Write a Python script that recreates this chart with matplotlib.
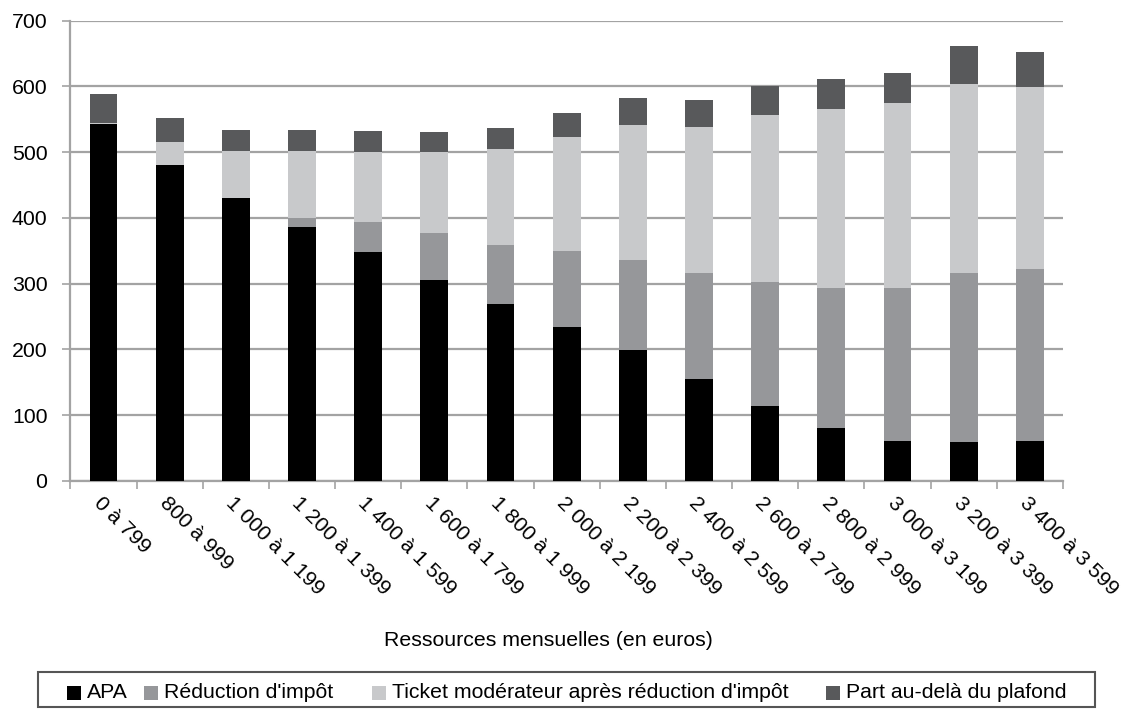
import matplotlib
matplotlib.use("Agg")
import matplotlib.pyplot as plt
from matplotlib.patches import Rectangle
from matplotlib.ticker import FixedLocator, NullFormatter
import matplotlib.transforms as mtransforms
import numpy as np

plt.rcParams['font.family'] = ['Liberation Sans', 'DejaVu Sans']

categories = [
    "0 à 799", "800 à 999", "1 000 à 1 199", "1 200 à 1 399", "1 400 à 1 599",
    "1 600 à 1 799", "1 800 à 1 999", "2 000 à 2 199", "2 200 à 2 399",
    "2 400 à 2 599", "2 600 à 2 799", "2 800 à 2 999", "3 000 à 3 199",
    "3 200 à 3 399", "3 400 à 3 599",
]

apa = [543, 480, 430, 386, 348, 306, 269, 234, 199, 155, 114, 81, 61, 59, 61]
reduction_impot = [0, 0, 0, 14, 46, 71, 90, 116, 137, 161, 189, 213, 233, 257, 261]
ticket_moderateur = [2, 35, 72, 102, 106, 123, 146, 173, 205, 222, 254, 272, 281, 288, 277]
part_plafond = [44, 37, 32, 32, 32, 30, 32, 37, 41, 41, 44, 45, 45, 58, 53]

series_names = [
    "APA",
    "Réduction d'impôt",
    "Ticket modérateur après réduction d'impôt",
    "Part au-delà du plafond",
]
series_colors = ["#000000", "#96979a", "#c8c9cb", "#58595b"]

FS = 15.3
W, H = 1132, 709
fig = plt.figure(figsize=(W / 100, H / 100), dpi=100)
ax = fig.add_axes([70.4 / W, 1 - 481 / H, (1063 - 70.4) / W, (481 - 20.7) / H])

x = np.arange(len(categories))
bottom = np.zeros(len(categories))
for vals, name, col in zip([apa, reduction_impot, ticket_moderateur, part_plafond],
                           series_names, series_colors):
    vals = np.asarray(vals, dtype=float)
    ax.bar(x, vals, width=0.42, bottom=bottom, color=col, edgecolor='none',
           zorder=3, label=name)
    bottom += vals

grid_col = "#a3a3a3"
ax.set_xlim(-0.5, len(categories) - 0.5)
ax.set_ylim(0, 700)
ax.set_yticks(np.arange(0, 701, 100))
ax.yaxis.grid(True, color=grid_col, linewidth=1.6, zorder=0)
ax.set_axisbelow(True)

for side in ("top", "right"):
    ax.spines[side].set_visible(False)
for side in ("left", "bottom"):
    ax.spines[side].set_color(grid_col)
    ax.spines[side].set_linewidth(1.6)

ax.tick_params(axis='y', direction='out', length=5.5, width=1.2, color=grid_col,
               pad=11, labelsize=FS, labelcolor='#000000')

# category boundaries carry the tick marks, centres carry the labels
ax.xaxis.set_minor_locator(FixedLocator(np.arange(-0.5, len(categories), 1.0)))
ax.xaxis.set_minor_formatter(NullFormatter())
ax.tick_params(axis='x', which='minor', direction='out', length=5.5, width=1.2,
               color=grid_col)
ax.set_xticks(x)
ax.set_xticklabels(categories)
ax.tick_params(axis='x', which='major', length=0, pad=0, labelsize=FS)
offset = mtransforms.ScaledTranslation(-5 / 72, -13.5 / 72, fig.dpi_scale_trans)
for lab in ax.get_xticklabels():
    lab.set_rotation(-45)
    lab.set_rotation_mode('anchor')
    lab.set_ha('left')
    lab.set_va('center')
    lab.set_transform(lab.get_transform() + offset)

fig.text(548 / W, 1 - 640 / H, "Ressources mensuelles (en euros)",
         ha='center', va='center', fontsize=FS)

# legend: outer frame, then one square swatch and label per series
fig.add_artist(Rectangle((38 / W, 1 - 707 / H), (1095 - 38) / W, (707 - 672) / H,
                         transform=fig.transFigure, facecolor='none',
                         edgecolor='#555555', linewidth=1.5))
legend_text_x = [87, 164, 392, 846]
sq = 14
y_mid = 693
for tx, name, col in zip(legend_text_x, series_names, series_colors):
    fig.add_artist(Rectangle(((tx - 20) / W, 1 - (y_mid + sq / 2) / H), sq / W, sq / H,
                             transform=fig.transFigure, facecolor=col,
                             edgecolor='none'))
    fig.text(tx / W, 1 - y_mid / H, name, ha='left', va='center', fontsize=FS)

fig.savefig("out.png", dpi=100)
